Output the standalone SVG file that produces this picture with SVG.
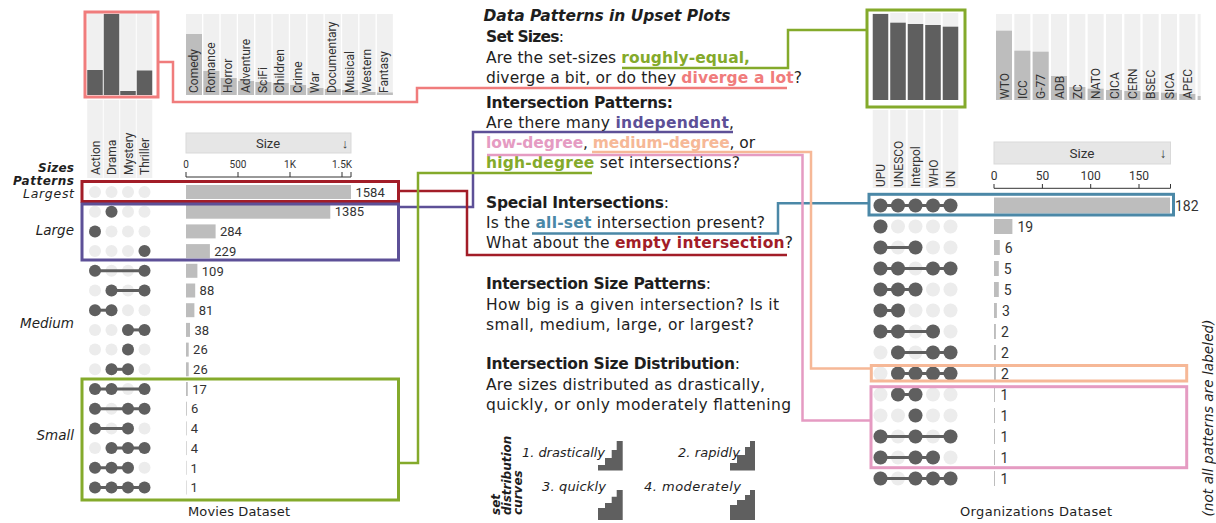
<svg xmlns="http://www.w3.org/2000/svg" width="1216" height="523" viewBox="0 0 1216 523">
<style>
.bg{fill:#f0f0f0}
.dk{fill:#5f5f5f}
.lt{fill:#bdbdbd}
.ln{stroke:#5f5f5f;stroke-width:3}
.ch{font-family:Roboto,"Liberation Sans",sans-serif;fill:#333}
.mt{font-family:"DejaVu Sans","Liberation Sans",sans-serif;fill:#1e1e1e}
.b{font-weight:bold}
.i{font-style:italic}
.box{fill:none;stroke-width:3}
.con{fill:none;stroke-width:2.5}
.hdr{fill:#e6e6e6;stroke:#d9d9d9;stroke-width:1}
.ax{stroke:#333;stroke-width:1;fill:none}
</style>
<defs>
<g id="m4"><circle cx="95" r="6" fill="#ececec"/><circle cx="111.5" r="6" fill="#ececec"/><circle cx="128" r="6" fill="#ececec"/><circle cx="144.5" r="6" fill="#ececec"/></g>
<g id="o5"><circle cx="880.5" r="7" fill="#ececec"/><circle cx="898" r="7" fill="#ececec"/><circle cx="915.5" r="7" fill="#ececec"/><circle cx="933" r="7" fill="#ececec"/><circle cx="950.5" r="7" fill="#ececec"/></g>
</defs>
<rect width="1216" height="523" fill="#ffffff"/>

<!-- ================= MOVIES ================= -->
<g id="movies-set-sizes">
<rect class="bg" x="87.25" y="13" width="15.5" height="82"/>
<rect class="bg" x="103.75" y="13" width="15.5" height="82"/>
<rect class="bg" x="120.25" y="13" width="15.5" height="82"/>
<rect class="bg" x="136.75" y="13" width="15.5" height="82"/>
<rect class="bg" x="87.25" y="100" width="15.5" height="78"/>
<rect class="bg" x="103.75" y="100" width="15.5" height="78"/>
<rect class="bg" x="120.25" y="100" width="15.5" height="78"/>
<rect class="bg" x="136.75" y="100" width="15.5" height="78"/>
<rect class="dk" x="87.25" y="70" width="15.5" height="25"/>
<rect class="dk" x="103.75" y="14" width="15.5" height="81"/>
<rect class="dk" x="120.25" y="91" width="15.5" height="4"/>
<rect class="dk" x="136.75" y="70.5" width="15.5" height="24.5"/>
<g class="ch" font-size="12">
<text transform="translate(99.5,175) rotate(-90)">Action</text>
<text transform="translate(116,175) rotate(-90)">Drama</text>
<text transform="translate(132.5,175) rotate(-90)">Mystery</text>
<text transform="translate(149,175) rotate(-90)">Thriller</text>
</g>
</g>
<g id="movies-set-size-box"><rect class="box" stroke="#f07c7c" x="85" y="12" width="73" height="85"/></g>

<g id="movies-other-sets">
<rect class="bg" x="186" y="14" width="16" height="81"/><rect class="lt" x="186" y="34" width="16" height="61"/>
<rect class="bg" x="203.35" y="14" width="16" height="81"/><rect class="lt" x="203.35" y="71" width="16" height="24"/>
<rect class="bg" x="220.7" y="14" width="16" height="81"/><rect class="lt" x="220.7" y="78" width="16" height="17"/>
<rect class="bg" x="238.05" y="14" width="16" height="81"/><rect class="lt" x="238.05" y="81" width="16" height="14"/>
<rect class="bg" x="255.4" y="14" width="16" height="81"/><rect class="lt" x="255.4" y="82" width="16" height="13"/>
<rect class="bg" x="272.75" y="14" width="16" height="81"/><rect class="lt" x="272.75" y="83" width="16" height="12"/>
<rect class="bg" x="290.1" y="14" width="16" height="81"/><rect class="lt" x="290.1" y="85" width="16" height="10"/>
<rect class="bg" x="307.45" y="14" width="16" height="81"/><rect class="lt" x="307.45" y="88" width="16" height="7"/>
<rect class="bg" x="324.8" y="14" width="16" height="81"/><rect class="lt" x="324.8" y="89" width="16" height="6"/>
<rect class="bg" x="342.15" y="14" width="16" height="81"/><rect class="lt" x="342.15" y="90" width="16" height="5"/>
<rect class="bg" x="359.5" y="14" width="16" height="81"/><rect class="lt" x="359.5" y="92" width="16" height="3"/>
<rect class="bg" x="376.85" y="14" width="16" height="81"/><rect class="lt" x="376.85" y="92.5" width="16" height="2.5"/>
<g class="ch" font-size="12">
<text transform="translate(197.5,93) rotate(-90)">Comedy</text>
<text transform="translate(214.85,93) rotate(-90)">Romance</text>
<text transform="translate(232.2,93) rotate(-90)">Horror</text>
<text transform="translate(249.55,93) rotate(-90)">Adventure</text>
<text transform="translate(266.9,93) rotate(-90)">SciFi</text>
<text transform="translate(284.25,93) rotate(-90)">Children</text>
<text transform="translate(301.6,93) rotate(-90)">Crime</text>
<text transform="translate(318.95,93) rotate(-90)">War</text>
<text transform="translate(336.3,93) rotate(-90)">Documentary</text>
<text transform="translate(353.65,93) rotate(-90)">Musical</text>
<text transform="translate(371,93) rotate(-90)">Western</text>
<text transform="translate(388.35,93) rotate(-90)">Fantasy</text>
</g>
</g>

<g id="movies-size-axis">
<rect class="hdr" x="186" y="133" width="165" height="20"/>
<text class="ch" x="268" y="148" font-size="13" text-anchor="middle">Size</text>
<text class="ch" x="345" y="148" font-size="13" text-anchor="middle">↓</text>
<path class="ax" d="M186,177 H351 M186,172 V177 M238,172 V177 M290,172 V177 M342,172 V177 M351,172 V177"/>
<g class="ch" font-size="10" text-anchor="middle">
<text x="186" y="168">0</text><text x="238" y="168">500</text><text x="290" y="168">1K</text><text x="342" y="168">1.5K</text>
</g>
</g>

<g id="movies-matrix">
<use href="#m4" y="192"/>
<use href="#m4" y="211.7"/><circle class="dk" cx="111.5" cy="211.7" r="6"/>
<use href="#m4" y="231.4"/><circle class="dk" cx="95" cy="231.4" r="6"/>
<use href="#m4" y="251.1"/><circle class="dk" cx="144.5" cy="251.1" r="6"/>
<use href="#m4" y="270.8"/><path class="ln" d="M95,270.8 H144.5"/><circle class="dk" cx="95" cy="270.8" r="6"/><circle class="dk" cx="144.5" cy="270.8" r="6"/>
<use href="#m4" y="290.5"/><path class="ln" d="M111.5,290.5 H144.5"/><circle class="dk" cx="111.5" cy="290.5" r="6"/><circle class="dk" cx="144.5" cy="290.5" r="6"/>
<use href="#m4" y="310.2"/><path class="ln" d="M95,310.2 H111.5"/><circle class="dk" cx="95" cy="310.2" r="6"/><circle class="dk" cx="111.5" cy="310.2" r="6"/>
<use href="#m4" y="329.9"/><path class="ln" d="M128,329.9 H144.5"/><circle class="dk" cx="128" cy="329.9" r="6"/><circle class="dk" cx="144.5" cy="329.9" r="6"/>
<use href="#m4" y="349.6"/><circle class="dk" cx="128" cy="349.6" r="6"/>
<use href="#m4" y="369.3"/><path class="ln" d="M111.5,369.3 H128"/><circle class="dk" cx="111.5" cy="369.3" r="6"/><circle class="dk" cx="128" cy="369.3" r="6"/>
<use href="#m4" y="389"/><path class="ln" d="M95,389 H144.5"/><circle class="dk" cx="95" cy="389" r="6"/><circle class="dk" cx="111.5" cy="389" r="6"/><circle class="dk" cx="144.5" cy="389" r="6"/>
<use href="#m4" y="408.7"/><path class="ln" d="M95,408.7 H144.5"/><circle class="dk" cx="95" cy="408.7" r="6"/><circle class="dk" cx="128" cy="408.7" r="6"/><circle class="dk" cx="144.5" cy="408.7" r="6"/>
<use href="#m4" y="428.4"/><path class="ln" d="M95,428.4 H128"/><circle class="dk" cx="95" cy="428.4" r="6"/><circle class="dk" cx="128" cy="428.4" r="6"/>
<use href="#m4" y="448.1"/><path class="ln" d="M111.5,448.1 H144.5"/><circle class="dk" cx="111.5" cy="448.1" r="6"/><circle class="dk" cx="128" cy="448.1" r="6"/><circle class="dk" cx="144.5" cy="448.1" r="6"/>
<use href="#m4" y="467.8"/><path class="ln" d="M95,467.8 H128"/><circle class="dk" cx="95" cy="467.8" r="6"/><circle class="dk" cx="111.5" cy="467.8" r="6"/><circle class="dk" cx="128" cy="467.8" r="6"/>
<use href="#m4" y="487.5"/><path class="ln" d="M95,487.5 H144.5"/><circle class="dk" cx="95" cy="487.5" r="6"/><circle class="dk" cx="111.5" cy="487.5" r="6"/><circle class="dk" cx="128" cy="487.5" r="6"/><circle class="dk" cx="144.5" cy="487.5" r="6"/>
</g>

<g id="movies-bars">
<rect class="lt" x="186" y="185" width="165" height="14"/>
<rect class="lt" x="186" y="204.7" width="144.3" height="14"/>
<rect class="lt" x="186" y="224.4" width="29.6" height="14"/>
<rect class="lt" x="186" y="244.1" width="23.9" height="14"/>
<rect class="lt" x="186" y="263.8" width="11.4" height="14"/>
<rect class="lt" x="186" y="283.5" width="9.2" height="14"/>
<rect class="lt" x="186" y="303.2" width="8.4" height="14"/>
<rect class="lt" x="186" y="322.9" width="4" height="14"/>
<rect class="lt" x="186" y="342.6" width="2.7" height="14"/>
<rect class="lt" x="186" y="362.3" width="2.7" height="14"/>
<rect class="lt" x="186" y="382" width="1.8" height="14"/>
<rect class="lt" x="186" y="401.7" width="0.8" height="14"/>
<rect class="lt" x="186" y="421.4" width="0.6" height="14"/>
<rect class="lt" x="186" y="441.1" width="0.6" height="14"/>
<rect class="lt" x="186" y="460.8" width="0.5" height="14"/>
<rect class="lt" x="186" y="480.5" width="0.5" height="14"/>
<g class="ch" font-size="13">
<text x="355.5" y="196.7">1584</text>
<text x="334.8" y="216.4">1385</text>
<text x="220" y="236.1">284</text>
<text x="214.3" y="255.8">229</text>
<text x="201.8" y="275.5">109</text>
<text x="199.6" y="295.2">88</text>
<text x="198.8" y="314.9">81</text>
<text x="194.4" y="334.6">38</text>
<text x="193.1" y="354.3">26</text>
<text x="193.1" y="374">26</text>
<text x="192.2" y="393.7">17</text>
<text x="191" y="413.4">6</text>
<text x="190.8" y="433.1">4</text>
<text x="190.8" y="452.8">4</text>
<text x="190.5" y="472.5">1</text>
<text x="190.5" y="492.2">1</text>
</g>
</g>

<g id="movies-size-labels" class="mt" text-anchor="end">
<text x="74" y="172" class="b i" font-size="12" textLength="36">Sizes</text>
<text x="74" y="184.5" class="b i" font-size="12" textLength="61">Patterns</text>
<text x="74" y="197.5" class="i" font-size="12.5" textLength="51">Largest</text>
<text x="74" y="235" class="i" font-size="13.5">Large</text>
<text x="74" y="328" class="i" font-size="13.5">Medium</text>
<text x="74" y="440" class="i" font-size="13.5">Small</text>
</g>
<g id="movies-title"><text class="mt" x="239" y="516" font-size="13" text-anchor="middle" fill="#333" textLength="102">Movies Dataset</text></g>

<g id="box-largest"><rect class="box" stroke="#a21d28" x="82" y="181.5" width="316.5" height="20"/></g>
<g id="box-independent"><rect class="box" stroke="#5d5097" x="82" y="204" width="316.5" height="56"/></g>
<g id="box-high-degree-movies"><rect class="box" stroke="#84aa2b" x="82" y="379" width="316.5" height="121"/></g>

<!-- ================= ORGANIZATIONS ================= -->
<g id="orgs-set-sizes">
<rect class="bg" x="872.75" y="13" width="15.5" height="87"/>
<rect class="bg" x="890.25" y="13" width="15.5" height="87"/>
<rect class="bg" x="907.75" y="13" width="15.5" height="87"/>
<rect class="bg" x="925.25" y="13" width="15.5" height="87"/>
<rect class="bg" x="942.75" y="13" width="15.5" height="87"/>
<rect class="bg" x="872.75" y="110" width="15.5" height="78"/>
<rect class="bg" x="890.25" y="110" width="15.5" height="78"/>
<rect class="bg" x="907.75" y="110" width="15.5" height="78"/>
<rect class="bg" x="925.25" y="110" width="15.5" height="78"/>
<rect class="bg" x="942.75" y="110" width="15.5" height="78"/>
<rect class="dk" x="872.75" y="14" width="15.5" height="86"/>
<rect class="dk" x="890.25" y="22.7" width="15.5" height="77.3"/>
<rect class="dk" x="907.75" y="24" width="15.5" height="76"/>
<rect class="dk" x="925.25" y="25" width="15.5" height="75"/>
<rect class="dk" x="942.75" y="26.7" width="15.5" height="73.3"/>
<g class="ch" font-size="12">
<text transform="translate(885,187) rotate(-90)">UPU</text>
<text transform="translate(902.5,187) rotate(-90)">UNESCO</text>
<text transform="translate(920,187) rotate(-90)">Interpol</text>
<text transform="translate(937.5,187) rotate(-90)">WHO</text>
<text transform="translate(955,187) rotate(-90)">UN</text>
</g>
</g>
<g id="orgs-set-size-box"><rect class="box" stroke="#84aa2b" x="867" y="10" width="98" height="97"/></g>

<g id="orgs-other-sets">
<rect class="bg" x="996" y="14" width="16" height="86"/><rect class="lt" x="996" y="30.7" width="16" height="69.3"/>
<rect class="bg" x="1014.33" y="14" width="16" height="86"/><rect class="lt" x="1014.33" y="50.7" width="16" height="49.3"/>
<rect class="bg" x="1032.67" y="14" width="16" height="86"/><rect class="lt" x="1032.67" y="51.7" width="16" height="48.3"/>
<rect class="bg" x="1051" y="14" width="16" height="86"/><rect class="lt" x="1051" y="76" width="16" height="24"/>
<rect class="bg" x="1069.33" y="14" width="16" height="86"/><rect class="lt" x="1069.33" y="87" width="16" height="13"/>
<rect class="bg" x="1087.67" y="14" width="16" height="86"/><rect class="lt" x="1087.67" y="88.7" width="16" height="11.3"/>
<rect class="bg" x="1106" y="14" width="16" height="86"/><rect class="lt" x="1106" y="90" width="16" height="10"/>
<rect class="bg" x="1124.33" y="14" width="16" height="86"/><rect class="lt" x="1124.33" y="91" width="16" height="9"/>
<rect class="bg" x="1142.67" y="14" width="16" height="86"/><rect class="lt" x="1142.67" y="92" width="16" height="8"/>
<rect class="bg" x="1161" y="14" width="16" height="86"/><rect class="lt" x="1161" y="92.7" width="16" height="7.3"/>
<rect class="bg" x="1179.33" y="14" width="16" height="86"/><rect class="lt" x="1179.33" y="94" width="16" height="6"/>
<rect class="bg" x="1197.67" y="14" width="3" height="86"/><rect class="lt" x="1197.67" y="96" width="3" height="4"/>
<g class="ch" font-size="12">
<text transform="translate(1008.5,99) rotate(-90)">WTO</text>
<text transform="translate(1026.8,99) rotate(-90)">ICC</text>
<text transform="translate(1045.2,99) rotate(-90)">G-77</text>
<text transform="translate(1063.5,99) rotate(-90)">ADB</text>
<text transform="translate(1081.8,99) rotate(-90)">ZC</text>
<text transform="translate(1100.2,99) rotate(-90)">NATO</text>
<text transform="translate(1118.5,99) rotate(-90)">CICA</text>
<text transform="translate(1136.8,99) rotate(-90)">CERN</text>
<text transform="translate(1155.2,99) rotate(-90)">BSEC</text>
<text transform="translate(1173.5,99) rotate(-90)">SICA</text>
<text transform="translate(1191.8,99) rotate(-90)">APEC</text>
</g>
</g>

<g id="orgs-size-axis">
<rect class="hdr" x="994" y="142" width="176.5" height="22"/>
<text class="ch" x="1082" y="158" font-size="13.5" text-anchor="middle">Size</text>
<text class="ch" x="1163" y="158" font-size="13.5" text-anchor="middle">↓</text>
<path class="ax" d="M994,188.3 H1170.5 M994,184 V188.3 M1042.4,184 V188.3 M1090.7,184 V188.3 M1139,184 V188.3 M1170.5,184 V188.3"/>
<g class="ch" font-size="12" text-anchor="middle">
<text x="994" y="180">0</text><text x="1042.4" y="180">50</text><text x="1090.7" y="180">100</text><text x="1139" y="180">150</text>
</g>
</g>

<g id="orgs-matrix">
<use href="#o5" y="205.5"/><path class="ln" d="M880.5,205.5 H950.5"/><circle class="dk" cx="880.5" cy="205.5" r="7"/><circle class="dk" cx="898" cy="205.5" r="7"/><circle class="dk" cx="915.5" cy="205.5" r="7"/><circle class="dk" cx="933" cy="205.5" r="7"/><circle class="dk" cx="950.5" cy="205.5" r="7"/>
<use href="#o5" y="226.5"/><circle class="dk" cx="880.5" cy="226.5" r="7"/>
<use href="#o5" y="247.5"/><path class="ln" d="M880.5,247.5 H915.5"/><circle class="dk" cx="880.5" cy="247.5" r="7"/><circle class="dk" cx="915.5" cy="247.5" r="7"/>
<use href="#o5" y="268.5"/><path class="ln" d="M880.5,268.5 H950.5"/><circle class="dk" cx="880.5" cy="268.5" r="7"/><circle class="dk" cx="898" cy="268.5" r="7"/><circle class="dk" cx="933" cy="268.5" r="7"/><circle class="dk" cx="950.5" cy="268.5" r="7"/>
<use href="#o5" y="289.5"/><path class="ln" d="M880.5,289.5 H915.5"/><circle class="dk" cx="880.5" cy="289.5" r="7"/><circle class="dk" cx="898" cy="289.5" r="7"/><circle class="dk" cx="915.5" cy="289.5" r="7"/>
<use href="#o5" y="310.5"/><path class="ln" d="M880.5,310.5 H898"/><circle class="dk" cx="880.5" cy="310.5" r="7"/><circle class="dk" cx="898" cy="310.5" r="7"/>
<use href="#o5" y="331.5"/><path class="ln" d="M880.5,331.5 H933"/><circle class="dk" cx="880.5" cy="331.5" r="7"/><circle class="dk" cx="898" cy="331.5" r="7"/><circle class="dk" cx="933" cy="331.5" r="7"/>
<use href="#o5" y="352.5"/><path class="ln" d="M898,352.5 H950.5"/><circle class="dk" cx="898" cy="352.5" r="7"/><circle class="dk" cx="933" cy="352.5" r="7"/><circle class="dk" cx="950.5" cy="352.5" r="7"/>
<use href="#o5" y="373.5"/><path class="ln" d="M898,373.5 H950.5"/><circle class="dk" cx="898" cy="373.5" r="7"/><circle class="dk" cx="915.5" cy="373.5" r="7"/><circle class="dk" cx="933" cy="373.5" r="7"/><circle class="dk" cx="950.5" cy="373.5" r="7"/>
<use href="#o5" y="394.5"/><path class="ln" d="M898,394.5 H915.5"/><circle class="dk" cx="898" cy="394.5" r="7"/><circle class="dk" cx="915.5" cy="394.5" r="7"/>
<use href="#o5" y="415.5"/><circle class="dk" cx="915.5" cy="415.5" r="7"/>
<use href="#o5" y="436.5"/><path class="ln" d="M880.5,436.5 H950.5"/><circle class="dk" cx="880.5" cy="436.5" r="7"/><circle class="dk" cx="915.5" cy="436.5" r="7"/><circle class="dk" cx="950.5" cy="436.5" r="7"/>
<use href="#o5" y="457.5"/><path class="ln" d="M880.5,457.5 H933"/><circle class="dk" cx="880.5" cy="457.5" r="7"/><circle class="dk" cx="915.5" cy="457.5" r="7"/><circle class="dk" cx="933" cy="457.5" r="7"/>
<use href="#o5" y="478.5"/><path class="ln" d="M880.5,478.5 H950.5"/><circle class="dk" cx="880.5" cy="478.5" r="7"/><circle class="dk" cx="915.5" cy="478.5" r="7"/><circle class="dk" cx="933" cy="478.5" r="7"/><circle class="dk" cx="950.5" cy="478.5" r="7"/>
</g>

<g id="orgs-bars">
<rect class="lt" x="994" y="197.5" width="176" height="16"/>
<rect class="lt" x="994" y="219" width="18.4" height="15"/>
<rect class="lt" x="994" y="240" width="5.8" height="15"/>
<rect class="lt" x="994" y="261" width="4.8" height="15"/>
<rect class="lt" x="994" y="282" width="4.8" height="15"/>
<rect class="lt" x="994" y="303" width="2.9" height="15"/>
<rect class="lt" x="994" y="324" width="1.9" height="15"/>
<rect class="lt" x="994" y="345" width="1.9" height="15"/>
<rect class="lt" x="994" y="366" width="1.9" height="15"/>
<rect class="lt" x="994" y="387" width="1" height="15"/>
<rect class="lt" x="994" y="408" width="1" height="15"/>
<rect class="lt" x="994" y="429" width="1" height="15"/>
<rect class="lt" x="994" y="450" width="1" height="15"/>
<rect class="lt" x="994" y="471" width="1" height="15"/>
<g class="ch" font-size="14">
<text x="1175" y="210.5">182</text>
<text x="1017.4" y="231.5">19</text>
<text x="1004.8" y="252.5">6</text>
<text x="1003.8" y="273.5">5</text>
<text x="1003.8" y="294.5">5</text>
<text x="1001.9" y="315.5">3</text>
<text x="1000.9" y="336.5">2</text>
<text x="1000.9" y="357.5">2</text>
<text x="1000.9" y="378.5">2</text>
<text x="1000.5" y="399.5">1</text>
<text x="1000.5" y="420.5">1</text>
<text x="1000.5" y="441.5">1</text>
<text x="1000.5" y="462.5">1</text>
<text x="1000.5" y="483.5">1</text>
</g>
</g>

<g id="orgs-title"><text class="mt" x="1036" y="516" font-size="13" text-anchor="middle" fill="#333" textLength="152">Organizations Dataset</text></g>
<g id="note"><text class="mt i" transform="translate(1213,516.5) rotate(-90)" font-size="13.5" fill="#333" textLength="197">(not all patterns are labeled)</text></g>

<g id="box-all-set"><rect class="box" stroke="#4b88a7" x="869" y="194.3" width="304.5" height="20.7"/></g>
<g id="box-medium-degree"><rect class="box" stroke="#f6b897" x="871.3" y="365.5" width="315.4" height="15.5"/></g>
<g id="box-low-degree"><rect class="box" stroke="#e59bc2" x="871" y="386.7" width="315.7" height="81"/></g>

<!-- ================= CENTER TEXT ================= -->
<g id="title"><text class="mt b i" x="483.5" y="21" font-size="15.5" textLength="247">Data Patterns in Upset Plots</text></g>

<g id="text-set-sizes" class="mt" font-size="15.5">
<text x="486" y="41.5" textLength="78"><tspan class="b">Set Sizes</tspan>:</text>
<text x="486" y="62.5" textLength="264">Are the set-sizes <tspan class="b" fill="#84aa2b">roughly-equal,</tspan></text>
<text x="486" y="82.5" textLength="316">diverge a bit, or do they <tspan class="b" fill="#f07c7c">diverge a lot</tspan>?</text>
</g>

<g id="text-intersection-patterns" class="mt" font-size="15.5">
<text x="486" y="108" class="b" textLength="187">Intersection Patterns:</text>
<text x="486" y="128" textLength="248">Are there many <tspan class="b" fill="#5d5097">independent</tspan>,</text>
<text x="486" y="148" textLength="269"><tspan class="b" fill="#e59bc2">low-degree</tspan>, <tspan class="b" fill="#f6b897">medium-degree</tspan>, or</text>
<text x="486" y="168" textLength="254"><tspan class="b" fill="#84aa2b">high-degree</tspan> set intersections?</text>
</g>

<g id="text-special-intersections" class="mt" font-size="15.5">
<text x="486" y="208" textLength="183"><tspan class="b">Special Intersections</tspan>:</text>
<text x="486" y="228" textLength="279">Is the <tspan class="b" fill="#4b88a7">all-set</tspan> intersection present?</text>
<text x="486" y="248" textLength="307">What about the <tspan class="b" fill="#a21d28">empty intersection</tspan>?</text>
</g>

<g id="text-size-patterns" class="mt" font-size="15.5">
<text x="486" y="289" textLength="225"><tspan class="b">Intersection Size Patterns</tspan>:</text>
<text x="486" y="310" textLength="293">How big is a given intersection? Is it</text>
<text x="486" y="330" textLength="268">small, medium, large, or largest?</text>
</g>

<g id="text-size-distribution" class="mt" font-size="15.5">
<text x="486" y="369" textLength="254"><tspan class="b">Intersection Size Distribution</tspan>:</text>
<text x="486" y="390" textLength="279">Are sizes distributed as drastically,</text>
<text x="486" y="410" textLength="305">quickly, or only moderately flattening</text>
</g>

<g id="distribution-curves">
<g class="mt b i" font-size="12">
<text transform="translate(500,515) rotate(-90)">set</text>
<text transform="translate(511,515) rotate(-90)">distribution</text>
<text transform="translate(522,515) rotate(-90)">curves</text>
</g>
<g class="mt i" font-size="13">
<text x="522" y="457" textLength="83">1. drastically</text>
<text x="678" y="457" textLength="62">2. rapidly</text>
<text x="542" y="491" textLength="64">3. quickly</text>
<text x="644" y="491" textLength="97">4. moderately</text>
</g>
<path class="dk" d="M598,470.5 V465 H605 V458 H611.7 V450 H616.7 V441 H622.7 V470.5 Z"/>
<path class="dk" d="M730,470.5 V463 H737 V455 H745 V447 H750 V441 H755 V470.5 Z"/>
<path class="dk" d="M598,520 V508 H605 V503 H611.7 V496.7 H616.7 V490 H622.7 V520 Z"/>
<path class="dk" d="M730,520 V505 H737 V500 H745 V495 H750 V490 H755 V520 Z"/>
</g>

<!-- ================= CONNECTORS ================= -->
<g id="connectors">
<path class="con" stroke="#f07c7c" d="M158,62 H173 V102 H417 V88 H787"/>
<path class="con" stroke="#84aa2b" d="M867,30 H788 V68 H622"/>
<path class="con" stroke="#5d5097" d="M398.5,207 H473 V132 H733"/>
<path class="con" stroke="#a21d28" d="M398.5,191 H467 V255 H787"/>
<path class="con" stroke="#84aa2b" d="M398.5,463 H418 V173 H592"/>
<path class="con" stroke="#4b88a7" d="M869,203.3 H778 V233.5 H532"/>
<path class="con" stroke="#f6b897" d="M592,152 H811 V368.5 H871"/>
<path class="con" stroke="#e59bc2" d="M487,155 H802.5 V420.5 H871"/>
</g>
</svg>
